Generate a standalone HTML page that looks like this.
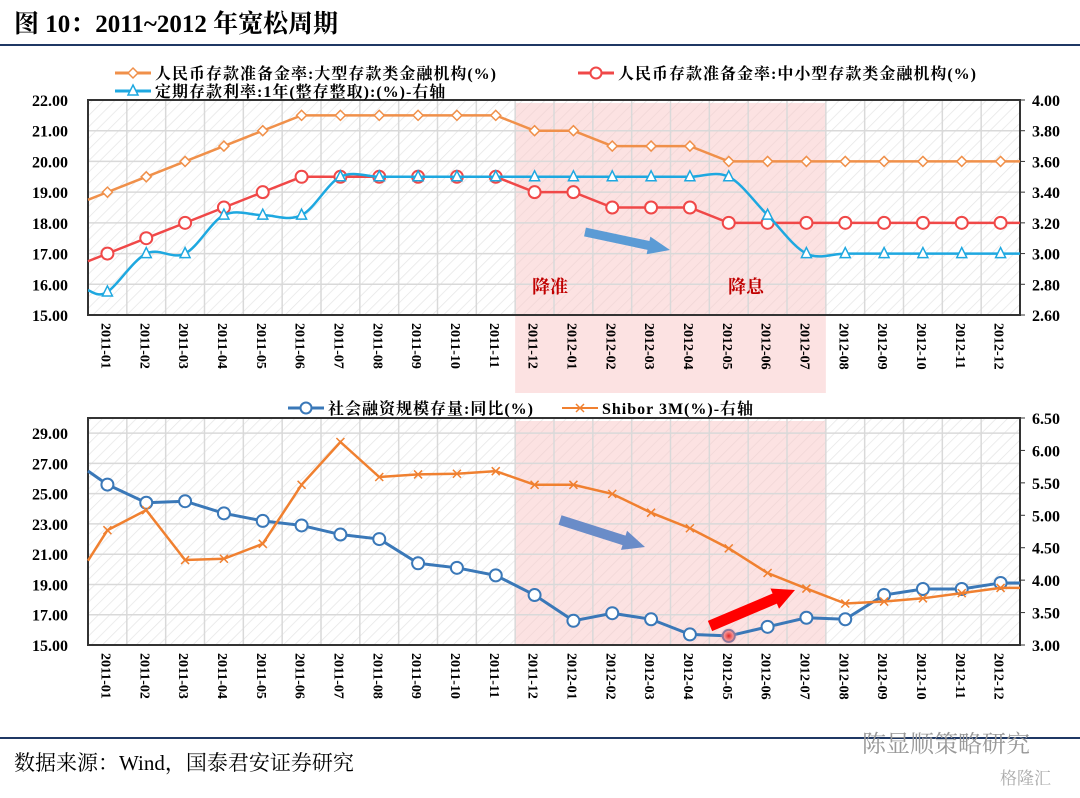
<!DOCTYPE html>
<html><head><meta charset="utf-8">
<style>
body{margin:0;background:#fff;width:1080px;height:793px;overflow:hidden;font-family:"Liberation Serif","Noto Serif CJK SC",serif}
svg text{font-family:"Liberation Serif","Noto Serif CJK SC",serif}
</style></head>
<body>
<svg id="s" width="1080" height="793" xmlns="http://www.w3.org/2000/svg">
<defs>
<pattern id="hatch" width="8" height="8" patternUnits="userSpaceOnUse" patternTransform="rotate(45)">
<line x1="0" y1="0" x2="0" y2="8" stroke="#e6e6e6" stroke-width="1.5"/></pattern>
<radialGradient id="glow"><stop offset="0" stop-color="#e02020"/><stop offset="0.5" stop-color="#f06060" stop-opacity="0.7"/><stop offset="1" stop-color="#ffaaaa" stop-opacity="0"/></radialGradient>
</defs>
<text x="14" y="32" font-size="25" font-weight="bold">图 10：2011~2012 年宽松周期</text>
<line x1="0" y1="45" x2="1080" y2="45" stroke="#1f3864" stroke-width="2"/>
<line x1="0" y1="738" x2="1080" y2="738" stroke="#1f3864" stroke-width="2"/>
<text x="14" y="770" font-size="21">数据来源：Wind，国泰君安证券研究</text>
<text x="862" y="752" font-size="24" fill="#999" font-family="Liberation Sans, Noto Sans CJK SC, sans-serif">陈显顺策略研究</text>
<text x="1000" y="784" font-size="17" fill="#aaa" font-family="Liberation Sans, Noto Sans CJK SC, sans-serif">格隆汇</text>
<g id="g"></g>
</svg>
<script>
const cats=["2011-01","2011-02","2011-03","2011-04","2011-05","2011-06","2011-07","2011-08","2011-09","2011-10","2011-11","2011-12","2012-01","2012-02","2012-03","2012-04","2012-05","2012-06","2012-07","2012-08","2012-09","2012-10","2012-11","2012-12"];
const rrrLarge=[19,19.5,20,20.5,21,21.5,21.5,21.5,21.5,21.5,21.5,21,21,20.5,20.5,20.5,20,20,20,20,20,20,20,20];
const rrrSmall=[17,17.5,18,18.5,19,19.5,19.5,19.5,19.5,19.5,19.5,19,19,18.5,18.5,18.5,18,18,18,18,18,18,18,18];
const depRate=[2.75,3.0,3.0,3.25,3.25,3.25,3.5,3.5,3.5,3.5,3.5,3.5,3.5,3.5,3.5,3.5,3.5,3.25,3.0,3.0,3.0,3.0,3.0,3.0];
const tsf=[25.6,24.4,24.5,23.7,23.2,22.9,22.3,22.0,20.4,20.1,19.6,18.3,16.6,17.1,16.7,15.7,15.6,16.2,16.8,16.7,18.3,18.7,18.7,19.1];
const shibor=[4.77,5.08,4.31,4.33,4.56,5.47,6.13,5.59,5.63,5.64,5.68,5.47,5.47,5.33,5.04,4.80,4.49,4.11,3.87,3.64,3.67,3.72,3.80,3.88];
const topLeftTicks=[15,16,17,18,19,20,21,22];
const topRightTicks=[2.6,2.8,3.0,3.2,3.4,3.6,3.8,4.0];
const botLeftTicks=[15,17,19,21,23,25,27,29];
const botRightTicks=[3.0,3.5,4.0,4.5,5.0,5.5,6.0,6.5];
const NS='http://www.w3.org/2000/svg';
const G=document.getElementById('g');
function el(t,a,p){const e=document.createElementNS(NS,t);for(const k in a)e.setAttribute(k,a[k]);(p||G).appendChild(e);return e;}
const X0=88,X1=1020,step=(X1-X0)/cats.length;
const xs=i=>X0+step*(i+0.5);
function chart(top,bot,lmin,lmax,rmin,rmax,lt,rt,name){
  const yl=v=>bot-(v-lmin)/(lmax-lmin)*(bot-top);
  const yr=v=>bot-(v-rmin)/(rmax-rmin)*(bot-top);
  const bg=el('rect',{x:X0,y:top,width:X1-X0,height:bot-top,fill:'url(#hatch)'});
  
  
  const sh=el('rect',{x:X0+step*11,y:top+3,width:step*8,height:bot-top-3+(name==='top'?78:0),fill:'#f9c5c5','fill-opacity':0.5});
  
  
  for(let i=0;i<=cats.length;i++){const l=el('line',{x1:X0+step*i,x2:X0+step*i,y1:top,y2:bot,stroke:'#d9d9d9','stroke-width':1.5});
    
    }
  lt.forEach(v=>{const y=yl(v);const l=el('line',{x1:X0,x2:X1,y1:y,y2:y,stroke:'#d9d9d9','stroke-width':1.5});
    
    
    const t=el('text',{x:X0-20,y:y+6,'text-anchor':'end','font-size':16,'font-weight':'bold'});t.textContent=v.toFixed(2);
    
    });
  rt.forEach(v=>{const y=yr(v);const l=el('line',{x1:X1,x2:X1+5,y1:y,y2:y,stroke:'#333'});
    
    
    const t=el('text',{x:X1+12,y:y+6,'font-size':16,'font-weight':'bold'});t.textContent=v.toFixed(2);
    
    });
  cats.forEach((c,i)=>{const t=el('text',{transform:`translate(${xs(i)-6},${bot+8}) rotate(90)`,'font-size':14,'font-weight':'bold'});t.textContent=c;
    
    });
  const b=el('rect',{x:X0,y:top,width:X1-X0,height:bot-top,fill:'none',stroke:'#333','stroke-width':2});
  
  
  return {yl,yr};
}
function smooth(pts){let d=`M${pts[0][0]},${pts[0][1]}`;for(let i=0;i<pts.length-1;i++){const p0=pts[i-1]||pts[i],p1=pts[i],p2=pts[i+1],p3=pts[i+2]||p2;
  d+=` C${p1[0]+(p2[0]-p0[0])/6},${p1[1]+(p2[1]-p0[1])/6} ${p2[0]-(p3[0]-p1[0])/6},${p2[1]-(p3[1]-p1[1])/6} ${p2[0]},${p2[1]}`;}return d;}
function series(vals,yf,color,w,marker,name,startV,endV,smoothed){
  const pts=vals.map((v,i)=>[xs(i),yf(v)]);
  const all=[[X0,yf(startV)],...pts,[X1,yf(endV)]];
  const d=smoothed?smooth(all):'M'+all.map(p=>p.join(',')).join(' L');
  const p=el('path',{d,fill:'none',stroke:color,'stroke-width':w});
  
  
  pts.forEach(q=>{let m;
    if(marker==='circle')m=el('circle',{cx:q[0],cy:q[1],r:6,fill:'#fff',stroke:color,'stroke-width':2});
    else if(marker==='diamond')m=el('path',{d:`M${q[0]},${q[1]-5} L${q[0]+5},${q[1]} L${q[0]},${q[1]+5} L${q[0]-5},${q[1]}Z`,fill:'#fff',stroke:color,'stroke-width':1.5});
    else if(marker==='tri')m=el('path',{d:`M${q[0]},${q[1]-6} L${q[0]+5},${q[1]+4} L${q[0]-5},${q[1]+4}Z`,fill:'#fff',stroke:color,'stroke-width':1.5});
    else m=el('path',{d:`M${q[0]-4},${q[1]-4} L${q[0]+4},${q[1]+4} M${q[0]+4},${q[1]-4} L${q[0]-4},${q[1]+4}`,stroke:color,'stroke-width':1.5});
    
    });
}
function legend(x,y,color,marker,label,w,name){
  const l=el('line',{x1:x,x2:x+36,y1:y,y2:y,stroke:color,'stroke-width':w});
  
  
  const cx=x+18;let m;
  if(marker==='circle')m=el('circle',{cx,cy:y,r:5.5,fill:'#fff',stroke:color,'stroke-width':2});
  else if(marker==='diamond')m=el('path',{d:`M${cx},${y-5} L${cx+5},${y} L${cx},${y+5} L${cx-5},${y}Z`,fill:'#fff',stroke:color,'stroke-width':1.5});
  else if(marker==='tri')m=el('path',{d:`M${cx},${y-6} L${cx+5},${y+4} L${cx-5},${y+4}Z`,fill:'#fff',stroke:color,'stroke-width':1.5});
  else m=el('path',{d:`M${cx-4},${y-4} L${cx+4},${y+4} M${cx+4},${y-4} L${cx-4},${y+4}`,stroke:color,'stroke-width':1.5});
  
  
  const t=el('text',{x:x+40,y:y+6,'font-size':16,'font-weight':'bold','letter-spacing':'1'});t.textContent=label;
  
  
}
const A=chart(100,315,15,22,2.6,4.0,topLeftTicks,topRightTicks,'top');
series(rrrLarge,A.yl,'#f0904a',2.5,'diamond','rrr-large',18.75,20,false);
series(rrrSmall,A.yl,'#f04848',2.5,'circle','rrr-small',16.75,18,false);
series(depRate,A.yr,'#1ea8e0',2.5,'tri','deposit-rate',2.76,3.0,true);
legend(115,73,'#f0904a','diamond','人民币存款准备金率:大型存款类金融机构(%)',3,'rrr-large');
legend(578,73,'#f04848','circle','人民币存款准备金率:中小型存款类金融机构(%)',3,'rrr-small');
legend(115,91,'#1ea8e0','tri','定期存款利率:1年(整存整取):(%)-右轴',3,'deposit-rate');
const B=chart(418,645,15,30,3.0,6.5,botLeftTicks,botRightTicks,'bottom');
series(tsf,B.yl,'#3a78b8',3,'circle','tsf',26.5,19.1,false);
series(shibor,B.yr,'#f08030',2.5,'x','shibor',4.3,3.88,false);
legend(288,408,'#3a78b8','circle','社会融资规模存量:同比(%)',3,'tsf');
legend(562,408,'#f08030','x','Shibor 3M(%)-右轴',2,'shibor');
function note(x,y,s,n){const t=el('text',{x,y,'font-size':18,fill:'#c00000','font-weight':'bold'});t.textContent=s;
  
  }
note(532,293,'降准','rrr-cut-label');note(728,293,'降息','rate-cut-label');
function arrow(x1,y1,x2,y2,color,w,n){const a=Math.atan2(y2-y1,x2-x1),L=Math.hypot(x2-x1,y2-y1),h=22;
  const p=el('path',{d:`M0,${-w/2} L${L-h},${-w/2} L${L-h},${-w} L${L},0 L${L-h},${w} L${L-h},${w/2} L0,${w/2}Z`,fill:color,transform:`translate(${x1},${y1}) rotate(${a*180/Math.PI})`});
  
  }
arrow(585,232,670,250,'#5b9bd5',9,'top-down-arrow');
arrow(560,520,645,547,'#6a8cc8',10,'bottom-down-arrow');
arrow(710,626,795,590,'#ff0000',11,'red-up-arrow');
const gl=el('circle',{cx:xs(16),cy:B.yl(tsf[16]),r:9,fill:'url(#glow)'});


</script>
</body></html>
